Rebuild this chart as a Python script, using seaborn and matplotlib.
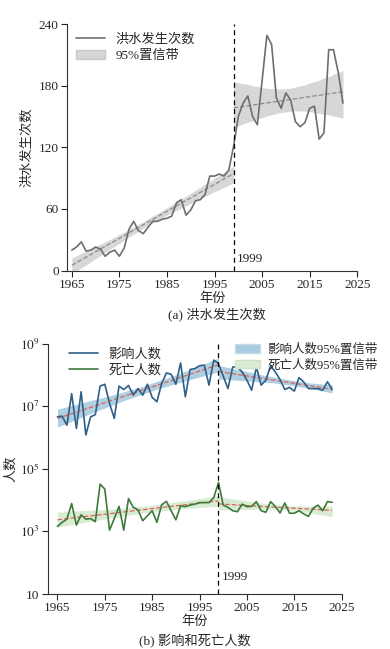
"""Flood counts and affected / death tolls, 1965-2023, split at 1999."""

import matplotlib
matplotlib.use("Agg")
import matplotlib.pyplot as plt
from matplotlib.lines import Line2D
from matplotlib.patches import Patch
import numpy as np
import pandas as pd
import seaborn as sns

# ---- data -------------------------------------------------------------
years_a = list(range(1965, 2023))
flood_counts = [
    20, 23, 28, 19, 20, 23, 21, 14, 18, 20,
    14, 22, 40, 48, 39, 36, 42, 48, 48, 50,
    51, 53, 66, 69, 54, 59, 68, 69, 74, 92,
    92, 94, 92, 98, 121, 150, 163, 170, 150, 142,
    185, 229, 220, 168, 158, 173, 166, 145, 140, 144,
    158, 160, 128, 134, 215, 215, 193, 163,
]

years_b = list(range(1965, 2024))
# values are log10 of the number of people
affected_log10 = [
    6.66, 6.68, 6.39, 7.40, 6.29, 7.46, 6.08, 6.66, 6.73, 7.64,
    7.70, 7.09, 6.61, 7.64, 7.53, 7.66, 7.35, 7.56, 7.35, 7.70,
    7.28, 7.14, 7.72, 8.06, 8.02, 7.70, 8.38, 7.30, 8.17, 8.20,
    8.29, 8.31, 7.67, 8.47, 8.36, 7.96, 7.56, 8.25, 8.25, 8.09,
    7.83, 7.51, 8.25, 7.67, 7.83, 8.29, 8.09, 7.85, 7.53, 7.60,
    7.48, 7.91, 7.77, 7.56, 7.56, 7.56, 7.51, 7.78, 7.53,
]
deaths_log10 = [
    3.16, 3.29, 3.39, 3.89, 3.20, 3.53, 3.39, 3.41, 3.31, 4.51,
    4.35, 3.04, 3.41, 3.80, 3.04, 4.05, 3.77, 3.69, 3.34, 3.50,
    3.66, 3.29, 3.85, 3.96, 3.66, 3.37, 3.82, 3.79, 3.84, 3.87,
    3.92, 3.92, 3.92, 4.08, 4.56, 3.84, 3.77, 3.66, 3.63, 3.87,
    3.79, 3.80, 3.95, 3.66, 3.61, 3.95, 3.80, 3.59, 3.91, 3.58,
    3.58, 3.66, 3.56, 3.48, 3.74, 3.84, 3.66, 3.95, 3.93,
]

break_year = 1999
x_ticks = [1965, 1975, 1985, 1995, 2005, 2015, 2025]
y_ticks_a = [0, 60, 120, 180, 240]
y_ticks_b = [1, 3, 5, 7, 9]

# ---- style ------------------------------------------------------------
sns.set_style("ticks")
plt.rcParams["font.family"] = ["Liberation Serif", "Noto Sans CJK SC"]
plt.rcParams["mathtext.fontset"] = "stix"
plt.rcParams["font.size"] = 9.5
plt.rcParams["axes.unicode_minus"] = False

GREY_LINE = "#6e6e6e"
BLUE_LINE = "#2f5f88"
GREEN_LINE = "#3c7a3c"
RED_FIT = "#e0605a"

df_a = pd.DataFrame({"year": years_a, "count": flood_counts})
df_b = pd.DataFrame({"year": years_b, "affected": affected_log10,
                     "deaths": deaths_log10})


def split(df):
    return df[df.year <= break_year], df[df.year >= break_year]


def fit_band(ax, data, col, band_color, band_alpha, line_color):
    sns.regplot(data=data, x="year", y=col, ax=ax, scatter=False, ci=95,
                seed=1, line_kws=dict(color=line_color, ls="--", lw=0.9))
    band = ax.collections[-1]
    band.set_facecolor(band_color)
    band.set_alpha(band_alpha)
    band.set_linewidth(0)


def style_axis(ax):
    sns.despine(ax=ax)
    ax.tick_params(direction="out", length=4, width=0.8, pad=2)
    for s in ("left", "bottom"):
        ax.spines[s].set_linewidth(0.8)
        ax.spines[s].set_color("#333333")


fig = plt.figure(figsize=(3.90, 6.49), dpi=100)

# ---- (a) flood occurrences -------------------------------------------
ax1 = fig.add_axes([0.172, 0.583, 0.744, 0.380])
for part in split(df_a):
    fit_band(ax1, part, "count", "#bdbdbd", 0.6, "#8c8c8c")
sns.lineplot(data=df_a, x="year", y="count", ax=ax1, color=GREY_LINE,
             lw=1.2)
ax1.axvline(break_year, color="black", ls=(0, (4, 3)), lw=0.9)
ax1.text(break_year + 0.6, 8, "1999", fontsize=9.5, ha="left")
ax1.set_xlim(1964, 2025)
ax1.set_ylim(0, 240)
ax1.set_xticks(x_ticks)
ax1.set_yticks(y_ticks_a)
ax1.set_xlabel("年份", labelpad=1)
ax1.set_ylabel("洪水发生次数", labelpad=4)
style_axis(ax1)
ax1.legend(handles=[Line2D([], [], color=GREY_LINE, lw=1.2),
                    Patch(facecolor="#d6d6d6", edgecolor="#c8c8c8")],
           labels=["洪水发生次数", "95%置信带"], loc="upper left",
           bbox_to_anchor=(0.0, 1.0), frameon=False, handlelength=2.2,
           handletextpad=0.8, labelspacing=0.3, borderaxespad=0.3)
fig.text(0.555, 0.515, "(a) 洪水发生次数", ha="center", va="center",
         fontsize=9.5)

# ---- (b) affected people and deaths -----------------------------------
ax2 = fig.add_axes([0.123, 0.0847, 0.753, 0.386])
for part in split(df_b):
    fit_band(ax2, part, "affected", "#6fa8c8", 0.55, RED_FIT)
    fit_band(ax2, part, "deaths", "#b5dba8", 0.5, RED_FIT)
sns.lineplot(data=df_b, x="year", y="affected", ax=ax2, color=BLUE_LINE,
             lw=1.2)
sns.lineplot(data=df_b, x="year", y="deaths", ax=ax2, color=GREEN_LINE,
             lw=1.2)
ax2.axvline(break_year, color="black", ls=(0, (4, 3)), lw=0.9)
ax2.text(break_year + 0.6, 1.45, "1999", fontsize=9.5, ha="left")
ax2.set_xlim(1963, 2025)
ax2.set_ylim(1, 9)
ax2.set_xticks(x_ticks)
ax2.set_yticks(y_ticks_b)
ax2.set_yticklabels(["10" if e == 1 else rf"$10^{{{e}}}$"
                     for e in y_ticks_b])
ax2.set_xlabel("年份", labelpad=1)
ax2.set_ylabel("人数", labelpad=2)
style_axis(ax2)
leg1 = ax2.legend(handles=[Line2D([], [], color=BLUE_LINE, lw=1.2),
                           Line2D([], [], color=GREEN_LINE, lw=1.2)],
                  labels=["影响人数", "死亡人数"], loc="upper left",
                  bbox_to_anchor=(0.03, 1.03), frameon=False,
                  handlelength=2.2, handletextpad=0.8, labelspacing=0.3)
ax2.add_artist(leg1)
ax2.legend(handles=[Patch(facecolor="#a9cde0", edgecolor="#c7dce8"),
                    Patch(facecolor="#dcebd6", edgecolor="#cfe0c8")],
           labels=["影响人数95%置信带", "死亡人数95%置信带"],
           loc="upper left", bbox_to_anchor=(0.61, 1.03), frameon=False,
           handlelength=2.0, handletextpad=0.6, labelspacing=0.3,
           fontsize=9, borderaxespad=0.2)
fig.text(0.5, 0.014, "(b) 影响和死亡人数", ha="center", va="center",
         fontsize=9.5)

fig.savefig("out.png", dpi=100)
plt.close(fig)
